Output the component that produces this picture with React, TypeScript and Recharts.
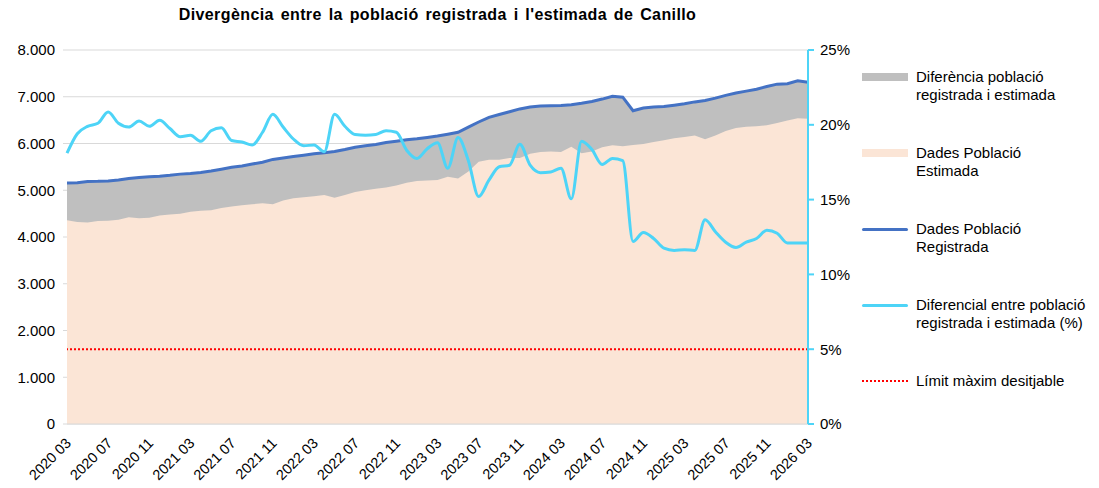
import React from "react";
import {
  ComposedChart,
  Area,
  Line,
  XAxis,
  YAxis,
  CartesianGrid,
  ReferenceLine,
} from "recharts";

// monthly, 2020 03 .. 2026 03
const startYear = 2020;
const startMonth = 3;

const registrada = [
  5155, 5160, 5185, 5190, 5200, 5220, 5250, 5275, 5290, 5300, 5320, 5345,
  5360, 5380, 5410, 5450, 5490, 5520, 5560, 5600, 5660, 5690, 5720, 5750,
  5780, 5800, 5830, 5870, 5920, 5950, 5980, 6020, 6050, 6080, 6100, 6130,
  6160, 6200, 6240, 6350, 6460, 6560, 6620, 6680, 6740, 6780, 6800, 6810,
  6815, 6830, 6860, 6900, 6950, 7010, 6990, 6700, 6760, 6780, 6790, 6820,
  6850, 6890, 6920, 6970, 7030, 7080, 7120, 7160, 7220, 7270, 7280, 7340,
  7310,
];

const estimada = [
  4360, 4320, 4310, 4340, 4350, 4370, 4420, 4400, 4410, 4460, 4480, 4500,
  4540, 4560, 4570, 4620, 4650, 4680, 4700, 4720, 4700, 4780, 4830, 4850,
  4870, 4900, 4840, 4900, 4960, 5000, 5030, 5060, 5100, 5160, 5200, 5210,
  5220, 5290, 5250, 5400, 5610, 5650, 5650, 5690, 5690, 5780, 5820, 5830,
  5820, 5930, 5790, 5830, 5920, 5960, 5940, 5970, 5990, 6030, 6070, 6110,
  6140, 6170, 6090, 6170, 6270, 6330, 6360, 6370, 6390, 6440, 6490, 6540,
  6530,
];

const diferencial = [
  18.1, 19.4, 19.9, 20.1, 20.85, 20.1, 19.85, 20.25, 19.9, 20.3, 19.75, 19.2,
  19.3, 18.9, 19.6, 19.8, 18.95, 18.85, 18.65, 19.5, 20.7, 19.85, 19.05, 18.6,
  18.65, 18.2, 20.7, 19.9, 19.35, 19.3, 19.35, 19.6, 19.5, 18.3, 17.75, 18.4,
  18.8, 17.1, 19.15, 17.6, 15.2, 16.3, 17.2, 17.3, 18.7, 17.3, 16.8, 16.85,
  17.1, 15.05, 18.9, 18.35, 17.35, 17.75, 17.6, 12.2, 12.8, 12.4, 11.75, 11.6,
  11.65, 11.6, 13.65, 12.85, 12.15, 11.8, 12.15, 12.4, 12.95, 12.75, 12.1, 12.1,
  12.1,
];

const limit = 5;
const leftTicks = [0, 1000, 2000, 3000, 4000, 5000, 6000, 7000, 8000];
const rightTicks = [0, 5, 10, 15, 20, 25];

const months = registrada.map((_, i) => {
  const m = startMonth - 1 + i;
  const y = startYear + Math.floor(m / 12);
  return `${y} ${String((m % 12) + 1).padStart(2, "0")}`;
});

const data = months.map((month, i) => ({
  month,
  registrada: registrada[i],
  estimada: estimada[i],
  diferencial: diferencial[i],
}));

const C = {
  grey: "#BFBFBF",
  peach: "#FBE5D6",
  blue: "#4472C4",
  cyan: "#4DD4F7",
  red: "#FF0000",
  grid: "#D9D9D9",
  text: "#000000",
};

const FONT = "'Liberation Sans', Arial, sans-serif";

const fmtThousands = (v: number) =>
  v === 0 ? "0" : `${Math.floor(v / 1000)}.${String(v % 1000).padStart(3, "0")}`;

const XTick = ({ x, y, payload }: any) => (
  <text
    x={x + 5}
    y={y + 12}
    transform={`rotate(-45 ${x + 5} ${y + 12})`}
    textAnchor="end"
    fontSize={14.5}
    fontFamily={FONT}
    fill={C.text}
  >
    {payload.value}
  </text>
);

const legendItems = [
  { label: ["Diferència població", "registrada i estimada"], kind: "area", color: C.grey, top: 68 },
  { label: ["Dades Població", "Estimada"], kind: "area", color: C.peach, top: 144 },
  { label: ["Dades Població", "Registrada"], kind: "line", color: C.blue, top: 220 },
  { label: ["Diferencial entre població", "registrada i estimada (%)"], kind: "line", color: C.cyan, top: 296 },
  { label: ["Límit màxim desitjable"], kind: "dot", color: C.red, top: 372 },
];

export default function App() {
  return (
    <div
      style={{
        position: "absolute",
        left: 0,
        top: 0,
        width: 1099,
        height: 488,
        background: "#fff",
        fontFamily: FONT,
      }}
    >
      <div
        style={{
          position: "absolute",
          top: 6,
          left: 0,
          width: 875,
          textAlign: "center",
          fontWeight: "bold",
          fontSize: 16,
          letterSpacing: 0.4,
          wordSpacing: 2,
          color: C.text,
        }}
      >
        Divergència entre la població registrada i l'estimada de Canillo
      </div>

      <div style={{ position: "absolute", left: 0, top: 0 }}>
        <ComposedChart
          width={860}
          height={488}
          data={data}
          margin={{ top: 50, right: 0, bottom: 0, left: 0 }}
        >
          <CartesianGrid yAxisId="left" vertical={false} stroke={C.grid} />
          <XAxis
            dataKey="month"
            interval={3}
            tick={<XTick />}
            tickLine={false}
            axisLine={{ stroke: C.grid, strokeWidth: 1 }}
            height={64}
          />
          <YAxis
            yAxisId="left"
            domain={[0, 8000]}
            ticks={leftTicks}
            tickFormatter={fmtThousands}
            axisLine={false}
            tickLine={{ stroke: C.grid }}
            tickSize={4}
            tickMargin={8}
            width={67}
            tick={{ fontSize: 15, fill: C.text, fontFamily: FONT }}
          />
          <YAxis
            yAxisId="right"
            orientation="right"
            domain={[0, 25]}
            ticks={rightTicks}
            tickFormatter={(v: number) => `${v}%`}
            axisLine={{ stroke: C.cyan, strokeWidth: 2 }}
            tickLine={{ stroke: C.cyan, strokeWidth: 2 }}
            tickSize={6}
            tickMargin={6}
            width={52}
            tick={{ fontSize: 15, fill: C.text, fontFamily: FONT, textAnchor: "start" }}
          />
          <Area
            yAxisId="left"
            type="linear"
            dataKey="registrada"
            stroke="none"
            fill={C.grey}
            fillOpacity={1}
            isAnimationActive={false}
          />
          <Area
            yAxisId="left"
            type="linear"
            dataKey="estimada"
            stroke="none"
            fill={C.peach}
            fillOpacity={1}
            isAnimationActive={false}
          />
          <ReferenceLine
            yAxisId="right"
            y={limit}
            stroke={C.red}
            strokeWidth={2}
            strokeDasharray="2 2"
          />
          <Line
            yAxisId="left"
            type="linear"
            dataKey="registrada"
            stroke={C.blue}
            strokeWidth={3}
            dot={false}
            isAnimationActive={false}
          />
          <Line
            yAxisId="right"
            type="monotone"
            dataKey="diferencial"
            stroke={C.cyan}
            strokeWidth={3}
            dot={false}
            isAnimationActive={false}
          />
        </ComposedChart>
      </div>

      {/* Legend */}
      {legendItems.map((it) => (
        <div
          key={it.label[0] + it.top}
          style={{ position: "absolute", left: 862, top: it.top, display: "flex", alignItems: "flex-start" }}
        >
          <div style={{ width: 46, height: 18, display: "flex", alignItems: "center" }}>
            {it.kind === "area" && <div style={{ width: 46, height: 8, background: it.color }} />}
            {it.kind === "line" && <div style={{ width: 46, height: 3, background: it.color, borderRadius: 2 }} />}
            {it.kind === "dot" && <div style={{ width: 46, height: 0, borderTop: `2px dotted ${it.color}` }} />}
          </div>
          <div style={{ marginLeft: 8, fontSize: 15, lineHeight: "18px", color: C.text }}>
            {it.label.map((l) => (
              <div key={l}>{l}</div>
            ))}
          </div>
        </div>
      ))}
    </div>
  );
}
